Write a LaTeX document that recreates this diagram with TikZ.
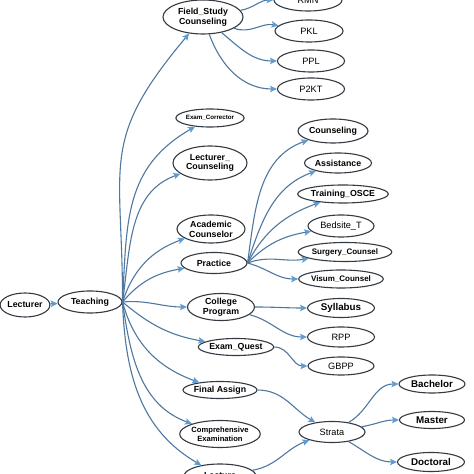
\documentclass[tikz,border=0pt]{standalone}
\usepackage{fontspec}
\setmainfont{Liberation Sans}
\usetikzlibrary{arrows.meta}
\usetikzlibrary{shapes.geometric}
\definecolor{edgeblue}{RGB}{78,120,160}
\definecolor{arrowblue}{RGB}{96,156,210}
\definecolor{rimgray}{RGB}{52,58,66}
\tikzset{concept/.style = {ellipse, draw=rimgray, line width=1.1pt, inner sep=0pt,
                           align=center, font=\fontsize{8.8}{9.8}\selectfont\bfseries},
         thin text/.style = {font=\fontsize{9.2}{10}\selectfont},
         link/.style = {draw=edgeblue, line width=1.1pt,
                        -{Stealth[length=7pt, width=6.5pt, inset=1.5pt, color=arrowblue]}}}

\begin{document}
\begin{tikzpicture}[x=1pt, y=1pt]
			\useasboundingbox (0,0) rectangle (474,474);
			\clip (0,0) rectangle (474,474);
			% root and first level
			\node [concept, minimum width=42, minimum height=24] (lect) at (25, 169) {Lecturer};
			\node [concept, minimum width=64, minimum height=22] (teach) at (90, 172) {Teaching};
			\node [concept, minimum width=80, minimum height=34] (fsc) at (203, 457) {Field\_Study\\Counseling};
			\node [concept, minimum width=66, minimum height=18, font=\fontsize{6.2}{7}\selectfont\bfseries] (exco) at (210, 356) {Exam\_Corrector};
			\node [concept, minimum width=74, minimum height=34] (lecco) at (210, 311) {Lecturer\_\\Counseling};
			\node [concept, minimum width=68, minimum height=28] (acad) at (211, 245) {Academic\\Counselor};
			\node [concept, minimum width=66, minimum height=21] (prac) at (214, 211) {Practice};
			\node [concept, minimum width=67, minimum height=27] (colp) at (221, 167) {College\\Program};
			\node [concept, minimum width=66, minimum height=17] (exq) at (236, 127) {Exam\_Quest};
			\node [concept, minimum width=66, minimum height=17] (fina) at (220, 84) {Final Assign};
			\node [concept, minimum width=80, minimum height=27, font=\fontsize{7.6}{8.6}\selectfont\bfseries] (comp) at (220, 40) {Comprehensive\\Examination};
			\node [concept, minimum width=72, minimum height=24] (lecture) at (220, -2) {Lecture};
			% field study
			\node [concept, thin text, minimum width=68, minimum height=22] (rmn) at (308, 474) {RMN};
			\node [concept, thin text, minimum width=68, minimum height=22] (pkl) at (309, 443) {PKL};
			\node [concept, thin text, minimum width=67, minimum height=22] (ppl) at (311, 413) {PPL};
			\node [concept, thin text, minimum width=67, minimum height=22] (p2kt) at (311, 385) {P2KT};
			% practice
			\node [concept, minimum width=70, minimum height=24] (cou) at (333, 343) {Counseling};
			\node [concept, minimum width=67, minimum height=20] (assi) at (338, 311) {Assistance};
			\node [concept, minimum width=78, minimum height=18] (tros) at (343, 280) {Training\_OSCE};
			\node [concept, thin text, minimum width=66, minimum height=22] (bedt) at (341, 248) {Bedsite\_T};
			\node [concept, minimum width=77, minimum height=19, font=\fontsize{8}{9}\selectfont\bfseries] (surc) at (345, 222) {Surgery\_Counsel};
			\node [concept, minimum width=67, minimum height=18, font=\fontsize{8}{9}\selectfont\bfseries] (visc) at (341, 195) {Visum\_Counsel};
			% college program, exam
			\node [concept, minimum width=67, minimum height=19, font=\fontsize{9.8}{10}\selectfont\bfseries] (syl) at (341, 166) {Syllabus};
			\node [concept, thin text, minimum width=67, minimum height=20] (rpp) at (341, 137) {RPP};
			\node [concept, thin text, minimum width=66, minimum height=18] (gbpp) at (341, 108) {GBPP};
			% strata
			\node [concept, thin text, minimum width=66, minimum height=21] (strata) at (332, 42) {Strata};
			\node [concept, minimum width=66, minimum height=18, font=\fontsize{9.8}{10}\selectfont\bfseries] (bach) at (432, 90) {Bachelor};
			\node [concept, minimum width=65, minimum height=17, font=\fontsize{9.8}{10}\selectfont\bfseries] (mast) at (432, 54) {Master};
			\node [concept, minimum width=67, minimum height=19, font=\fontsize{9.8}{10}\selectfont\bfseries] (doct) at (431, 12) {Doctoral};
			% connectors
			\draw [link] (lect) to (teach);
			\draw [link, out=90, in=230, looseness=1.3] (teach.east) to (fsc);
			\draw [link, out=87, in=210, looseness=1.1] (teach.east) to (exco);
			\draw [link, out=82, in=200] (teach.east) to (lecco);
			\draw [link, out=72, in=200] (teach.east) to (acad);
			\draw [link, out=50, in=190] (teach.east) to (prac);
			\draw [link, out=5, in=180] (teach.east) to (colp);
			\draw [link, out=-40, in=170] (teach.east) to (exq);
			\draw [link, out=-75, in=160] (teach.east) to (fina);
			\draw [link, out=-82, in=160] (teach.east) to (comp);
			\draw [link, out=-88, in=150] (teach.east) to (lecture);
			\draw [link, out=10, in=180] (fsc) to (rmn);
			\draw [link, out=-20, in=170] (fsc) to (pkl);
			\draw [link, out=-40, in=180] (fsc) to (ppl);
			\draw [link, out=-70, in=180] (fsc) to (p2kt);
			\draw [link, out=82, in=200] (prac.east) to (cou);
			\draw [link, out=72, in=200] (prac.east) to (assi);
			\draw [link, out=62, in=200] (prac.east) to (tros);
			\draw [link, out=45, in=190] (prac.east) to (bedt);
			\draw [link, out=20, in=190] (prac.east) to (surc);
			\draw [link, out=-15, in=180] (prac.east) to (visc);
			\draw [link, out=0, in=180] (colp) to (syl);
			\draw [link, out=-15, in=180] (colp) to (rpp);
			\draw [link, out=0, in=180] (exq) to (gbpp);
			\draw [link, out=0, in=150] (fina) to (strata);
			\draw [link, out=10, in=200] (lecture) to (strata);
			\draw [link, out=30, in=180] (strata) to (bach);
			\draw [link, out=10, in=180] (strata) to (mast);
			\draw [link, out=-30, in=180] (strata) to (doct);
		\end{tikzpicture}
\end{document}
